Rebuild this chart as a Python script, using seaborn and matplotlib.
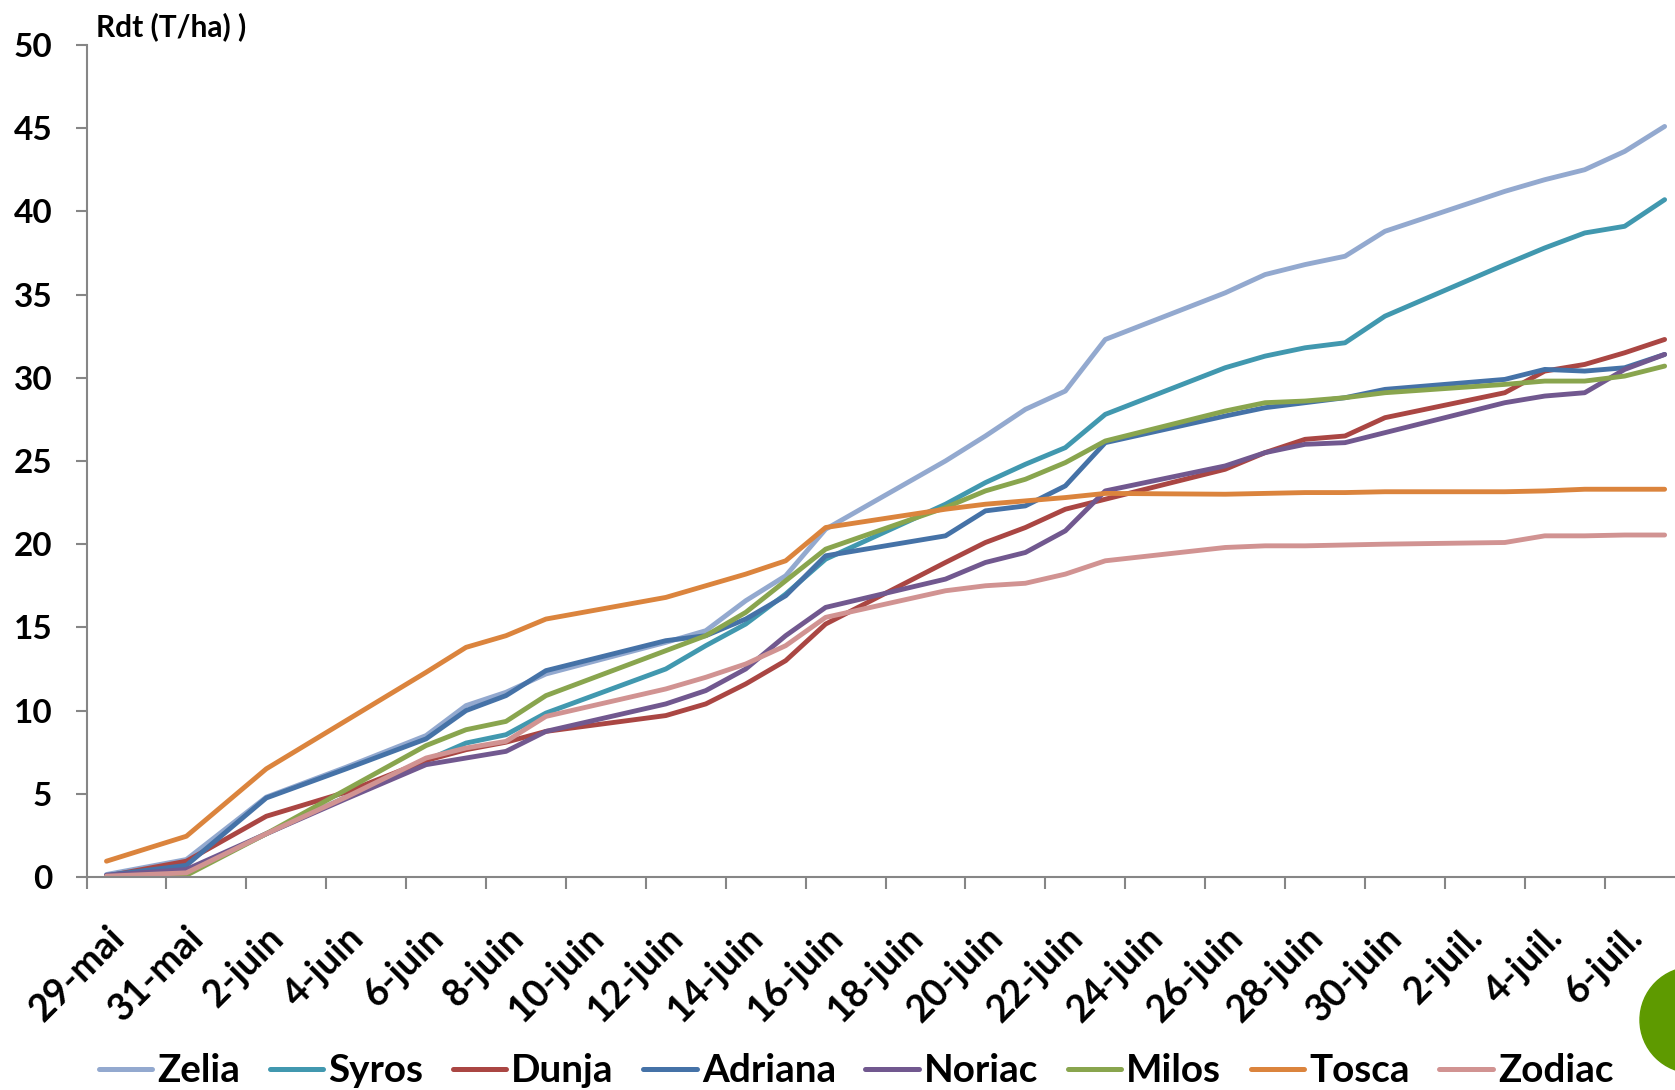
import numpy as np
import pandas as pd
import matplotlib
matplotlib.use("Agg")
import matplotlib.pyplot as plt
import matplotlib.dates as mdates
from matplotlib.patches import Circle
from matplotlib import font_manager as fm
import seaborn as sns

sns.set_theme(style="white")
avail = {f.name for f in fm.fontManager.ttflist}
fam = [f for f in ["Lato", "Open Sans", "DejaVu Sans"] if f in avail]
plt.rcParams['font.family'] = fam
plt.rcParams['font.weight'] = 'bold'
plt.rcParams['text.color'] = 'black'

# ---------------- data ----------------
dates = ["2014-05-29", "2014-05-31", "2014-06-02", "2014-06-04", "2014-06-06",
         "2014-06-07", "2014-06-08", "2014-06-09", "2014-06-12", "2014-06-13",
         "2014-06-14", "2014-06-15", "2014-06-16", "2014-06-19", "2014-06-20",
         "2014-06-21", "2014-06-22", "2014-06-23", "2014-06-26", "2014-06-27",
         "2014-06-28", "2014-06-29", "2014-06-30", "2014-07-03", "2014-07-04",
         "2014-07-05", "2014-07-06", "2014-07-07"]

zelia = [0.15, 1.05, 4.8, 6.6, 8.5, 10.3, 11.1, 12.2, 14.1, 14.8, 16.6, 18.1, 20.9, 25.0,
         26.5, 28.1, 29.2, 32.3, 35.1, 36.2, 36.8, 37.3, 38.8, 41.2, 41.9, 42.5, 43.6, 45.1]
syros = [0.05, 0.25, 2.6, 4.8, 7.0, 8.05, 8.55, 9.85, 12.5, 13.9, 15.2, 17.0, 19.1, 22.4,
         23.7, 24.8, 25.8, 27.8, 30.6, 31.3, 31.8, 32.1, 33.7, 36.8, 37.8, 38.7, 39.1, 40.7]
dunja = [0.05, 0.95, 3.65, 5.1, 7.0, 7.65, 8.1, 8.75, 9.7, 10.4, 11.6, 13.0, 15.2, 18.9,
         20.1, 21.0, 22.1, 22.7, 24.5, 25.5, 26.3, 26.5, 27.6, 29.1, 30.4, 30.8, 31.5, 32.3]
adriana = [0.1, 0.7, 4.75, 6.5, 8.3, 10.0, 10.9, 12.4, 14.2, 14.5, 15.5, 16.9, 19.3, 20.5,
           22.0, 22.3, 23.5, 26.1, 27.7, 28.2, 28.5, 28.8, 29.3, 29.9, 30.5, 30.4, 30.6, 31.4]
noriac = [0.1, 0.45, 2.6, 4.7, 6.75, 7.15, 7.55, 8.75, 10.4, 11.2, 12.5, 14.5, 16.2, 17.9,
          18.9, 19.5, 20.8, 23.2, 24.7, 25.5, 26.0, 26.1, 26.7, 28.5, 28.9, 29.1, 30.5, 31.4]
milos = [0.0, 0.1, 2.6, 5.25, 7.9, 8.85, 9.35, 10.9, 13.6, 14.5, 15.9, 17.8, 19.7, 22.2,
         23.2, 23.9, 24.9, 26.2, 28.0, 28.5, 28.6, 28.8, 29.1, 29.6, 29.8, 29.8, 30.1, 30.7]
tosca = [0.95, 2.45, 6.5, 9.4, 12.3, 13.8, 14.5, 15.5, 16.8, 17.5, 18.2, 19.0, 21.0, 22.1,
         22.4, 22.6, 22.8, 23.05, 23.0, 23.05, 23.1, 23.1, 23.15, 23.15, 23.2, 23.3, 23.3, 23.3]
zodiac = [0.05, 0.25, 2.6, 4.8, 7.15, 7.75, 8.15, 9.65, 11.3, 12.0, 12.8, 13.9, 15.6, 17.2,
          17.5, 17.65, 18.2, 19.0, 19.8, 19.9, 19.9, 19.95, 20.0, 20.1, 20.5, 20.5, 20.55, 20.55]

varieties = ["Zelia", "Syros", "Dunja", "Adriana", "Noriac", "Milos", "Tosca", "Zodiac"]
colors = ["#93A9CF", "#4198AF", "#AA4643", "#4572A7", "#71588F", "#89A54E", "#DB843D", "#D19392"]

tick_labels = ["29-mai", "31-mai", "2-juin", "4-juin", "6-juin", "8-juin", "10-juin",
               "12-juin", "14-juin", "16-juin", "18-juin", "20-juin", "22-juin", "24-juin",
               "26-juin", "28-juin", "30-juin", "2-juil.", "4-juil.", "6-juil."]
y_ticks = [0, 5, 10, 15, 20, 25, 30, 35, 40, 45, 50]
y_title = "Rdt (T/ha) )"

# ---------------- frame ----------------
wide = pd.DataFrame({"Date": pd.to_datetime(dates), "Zelia": zelia, "Syros": syros,
                     "Dunja": dunja, "Adriana": adriana, "Noriac": noriac, "Milos": milos,
                     "Tosca": tosca, "Zodiac": zodiac})
df = wide.melt(id_vars="Date", var_name="Variété", value_name="Rdt")
palette = dict(zip(varieties, colors))

W, H = 1675, 1090
fig = plt.figure(figsize=(W / 100, H / 100), dpi=100)
ax_left, ax_bottom_px, ax_top_px = 86.5, 877, 44.9
ax = fig.add_axes([ax_left / W, (H - ax_bottom_px) / H, 1 - ax_left / W,
                   (ax_bottom_px - ax_top_px) / H])

sns.lineplot(data=df, x="Date", y="Rdt", hue="Variété", hue_order=varieties,
             palette=palette, linewidth=3.5, estimator=None, errorbar=None,
             ax=ax, solid_capstyle="round", solid_joinstyle="round")

d0 = pd.Timestamp(dates[0])
n0 = mdates.date2num(d0)
ax.set_xlim(n0 - 0.5, n0 + 39.26)
ax.set_ylim(0, 50)

major = [n0 + 2 * i for i in range(len(tick_labels))]
minor = [n0 - 0.5 + 2 * i for i in range(len(tick_labels))]
ax.set_xticks(major)
ax.set_xticklabels(tick_labels, rotation=45, ha="right", va="top",
                   rotation_mode="anchor", fontsize=27, fontweight="bold")
ax.set_xticks(minor, minor=True)
ax.tick_params(axis="x", which="major", length=0, pad=31, labelcolor="black")
ax.tick_params(axis="x", which="minor", length=8.6, width=1.5, color="#868686",
               direction="out", bottom=True)

ax.set_yticks(y_ticks)
ax.set_yticklabels([str(v) for v in y_ticks], fontsize=24, fontweight="bold")
ax.tick_params(axis="y", length=7.7, width=1.5, color="#868686", pad=17,
               labelcolor="black", left=True, direction="out")

for s in ["top", "right"]:
    ax.spines[s].set_visible(False)
for s in ["left", "bottom"]:
    ax.spines[s].set_color("#868686")
    ax.spines[s].set_linewidth(1.5)
ax.set_xlabel("")
ax.set_ylabel("")

handles, labels = ax.get_legend_handles_labels()
leg = ax.legend(handles, labels, loc="center", bbox_to_anchor=(856 / W, 19 / H),
                bbox_transform=fig.transFigure, ncol=8, frameon=False,
                prop={"size": 27.8, "weight": "bold"}, handlelength=1.39,
                handletextpad=0.13, columnspacing=0.76, borderaxespad=0)
for h in leg.get_lines():
    h.set_linewidth(3.6)
    h.set_solid_capstyle("round")

fig.text(96 / W, 1 - 27 / H, y_title, fontsize=21.5, fontweight="bold",
         ha="left", va="center")

fig.add_artist(Circle((16.93, 0.70), 0.53, transform=fig.dpi_scale_trans,
                      color="#5E9A00", clip_on=False))

fig.savefig("out.png", dpi=100)
